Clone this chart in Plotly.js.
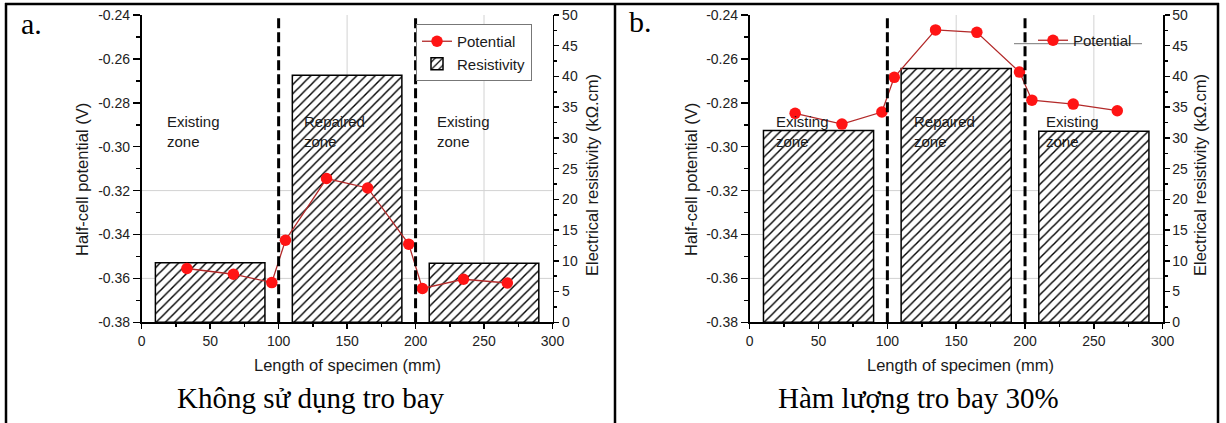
<!DOCTYPE html>
<html>
<head>
<meta charset="utf-8">
<script src="https://cdn.plot.ly/plotly-3.0.1.min.js"></script>
<style>html,body{margin:0;padding:0;background:#fff;}#chart{width:1226px;height:423px;}</style>
</head>
<body>
<div id="chart"></div>
<script>
// ---------------- data ----------------
const zoneCenters = [50, 150, 250];
const zoneBounds = [100, 200];
const zoneLabels = ["Existing<br>zone", "Repaired<br>zone", "Existing<br>zone"];

const posA = [33, 67, 95, 105, 135, 165, 195, 205, 235, 267];
const potA = [-0.3555, -0.3581, -0.3619, -0.3426, -0.3145, -0.3188, -0.3444, -0.3646, -0.3604, -0.3621];
const resA = [9.7, 40.2, 9.6];

const posB = [33, 67, 96, 105, 135, 165, 196, 205, 235, 267];
const potB = [-0.2848, -0.2897, -0.2842, -0.2684, -0.2468, -0.2479, -0.2660, -0.2788, -0.2806, -0.2836];
const resB = [31.2, 41.3, 31.1];

const xTicks = [0, 50, 100, 150, 200, 250, 300];
const potTicks = [-0.38, -0.36, -0.34, -0.32, -0.30, -0.28, -0.26, -0.24];
const potTickText = ["-0.38", "-0.36", "-0.34", "-0.32", "-0.30", "-0.28", "-0.26", "-0.24"];
const resTicks = [0, 5, 10, 15, 20, 25, 30, 35, 40, 45, 50];
const gridX = [150, 250];
const gridY = [-0.32, -0.34, -0.36];

const panelTags = ["a.", "b."];
const captions = ["Không sử dụng tro bay", "Hàm lượng tro bay 30%"];
const xTitle = "Length of specimen (mm)";
const yLeftTitle = "Half-cell potential (V)";
const yRightTitle = "Electrical resistivity (kΩ.cm)";

// ---------------- helpers ----------------
const W = 1226, H = 423;
const px = v => v / W;
const py = v => 1 - v / H;
const SANS = "Liberation Sans, Arial, sans-serif";
const SERIF = "Liberation Serif, Times New Roman, serif";

const barStyle = {
  color: "white",
  pattern: {shape: "/", fgcolor: "black", bgcolor: "white", size: 6.5, solidity: 0.22},
  line: {color: "black", width: 1.5}
};
const potMarker = {color: "#ff1414", size: 11.5};
const potLine = {color: "#b32a2a", width: 1.3};

const traces = [
  {type: "bar", x: zoneCenters, y: resA, width: 80, xaxis: "x", yaxis: "y",
   name: "Resistivity", marker: barStyle, legend: "legend", legendrank: 2, hoverinfo: "skip"},
  {type: "scatter", mode: "lines+markers", x: posA, y: potA, xaxis: "x", yaxis: "y2",
   name: "Potential", marker: potMarker, line: potLine, legend: "legend", legendrank: 1},
  {type: "bar", x: zoneCenters, y: resB, width: 80, xaxis: "x2", yaxis: "y3",
   name: "Resistivity", marker: barStyle, showlegend: false, hoverinfo: "skip"},
  {type: "scatter", mode: "lines+markers", x: posB, y: potB, xaxis: "x2", yaxis: "y4",
   name: "Potential", marker: potMarker, line: potLine, legend: "legend2"}
];

const yDom = [py(322.3), py(15)];
const domA = [px(141.7), px(552.5)];
const domB = [px(749.7), px(1162.7)];

function xAxis(dom, anchor) {
  return {domain: dom, anchor: anchor, range: [0, 300], tickmode: "array", tickvals: xTicks,
    ticks: "outside", ticklen: 5, tickwidth: 1.5, tickcolor: "black",
    showline: true, linecolor: "black", linewidth: 1.8, showgrid: false, zeroline: false,
    tickfont: {size: 14, color: "#222"},
    minor: {tickmode: "linear", tick0: 0, dtick: 25, ticks: "outside", ticklen: 3, tickcolor: "black", showgrid: false}};
}
function xTop(over, anchor) {
  return {overlaying: over, anchor: anchor, side: "top", range: [0, 300], tickmode: "array", tickvals: xTicks,
    ticks: "inside", ticklen: 4, tickwidth: 1.2, tickcolor: "black", showticklabels: false,
    showline: true, linecolor: "black", linewidth: 1.8, showgrid: false, zeroline: false};
}
function resAxis(anchor) {
  return {domain: yDom, anchor: anchor, side: "right", range: [0, 50], tickmode: "array", tickvals: resTicks,
    ticks: "outside", ticklen: 5, tickwidth: 1.5, tickcolor: "black",
    showline: true, linecolor: "black", linewidth: 1.8, showgrid: false, zeroline: false,
    tickfont: {size: 14, color: "#222"},
    minor: {tickmode: "linear", tick0: 0, dtick: 2.5, ticks: "outside", ticklen: 3, tickcolor: "black", showgrid: false}};
}
function potAxis(over, anchor) {
  return {overlaying: over, anchor: anchor, side: "left", range: [-0.38, -0.24], tickmode: "array",
    tickvals: potTicks, ticktext: potTickText,
    ticks: "outside", ticklen: 7, tickwidth: 1.5, tickcolor: "black",
    showline: true, linecolor: "black", linewidth: 1.8, showgrid: false, zeroline: false,
    tickfont: {size: 14, color: "#222"},
    minor: {tickmode: "linear", tick0: -0.38, dtick: 0.01, ticks: "outside", ticklen: 4, tickcolor: "black", showgrid: false}};
}

const shapes = [];
// grid lines (below traces) and zone boundaries; [x axis, potential axis, resistivity axis]
[["x", "y2", "y"], ["x2", "y4", "y3"]].forEach(([xa, ya, yr]) => {
  gridX.forEach(g => shapes.push({type: "line", layer: "below", xref: xa, yref: yr + " domain",
    x0: g, x1: g, y0: 0, y1: 1, line: {color: "#d2d2d2", width: 1}}));
  gridY.forEach(g => shapes.push({type: "line", layer: "below", xref: xa + " domain", yref: ya,
    x0: 0, x1: 1, y0: g, y1: g, line: {color: "#d2d2d2", width: 1}}));
  zoneBounds.forEach(b => shapes.push({type: "line", layer: "above", xref: xa, yref: yr + " domain",
    x0: b, x1: b, y0: 0, y1: 1, line: {color: "black", width: 3, dash: "10px,4px"}}));
});
// table borders
const tb = {color: "black", width: 2.5};
shapes.push({type: "line", xref: "paper", yref: "paper", x0: px(6), x1: px(6), y0: 0, y1: py(3), line: tb});
shapes.push({type: "line", xref: "paper", yref: "paper", x0: px(615), x1: px(615), y0: 0, y1: py(3), line: tb});
shapes.push({type: "line", xref: "paper", yref: "paper", x0: px(1218), x1: px(1218), y0: 0, y1: py(3), line: tb});
shapes.push({type: "line", xref: "paper", yref: "paper", x0: px(5), x1: px(1219), y0: py(4), y1: py(4), line: tb});
// underline of legend in panel b
shapes.push({type: "line", xref: "paper", yref: "paper", x0: px(1014), x1: px(1142), y0: py(43.7), y1: py(43.7),
  line: {color: "#777", width: 1}});

const annotations = [];
const zoneX = [[165, 302, 435], [774, 912, 1044]];
zoneX.forEach(row => row.forEach((xp, i) => annotations.push({
  xref: "paper", yref: "paper", x: px(xp), y: py(131.5), xanchor: "left", yanchor: "middle", align: "left",
  text: zoneLabels[i], showarrow: false, font: {family: SANS, size: 15, color: "#1a1a1a"}})));
// axis titles
[[82, 592, 347.5], [691, 1200, 960.5]].forEach(([l, r, b]) => {
  annotations.push({xref: "paper", yref: "paper", x: px(l), y: py(180), textangle: -90, text: yLeftTitle,
    showarrow: false, xanchor: "center", yanchor: "middle", font: {family: SANS, size: 16.5, color: "#1a1a1a"}});
  annotations.push({xref: "paper", yref: "paper", x: px(r), y: py(175), textangle: -90, text: yRightTitle,
    showarrow: false, xanchor: "center", yanchor: "middle", font: {family: SANS, size: 16.5, color: "#1a1a1a"}});
  annotations.push({xref: "paper", yref: "paper", x: px(b), y: py(365), text: xTitle,
    showarrow: false, xanchor: "center", yanchor: "middle", font: {family: SANS, size: 16.5, color: "#1a1a1a"}});
});
// panel tags and captions
annotations.push({xref: "paper", yref: "paper", x: px(19), y: py(24), text: panelTags[0], showarrow: false,
  xanchor: "left", yanchor: "middle", font: {family: SERIF, size: 30, color: "black"}});
annotations.push({xref: "paper", yref: "paper", x: px(627), y: py(22), text: panelTags[1], showarrow: false,
  xanchor: "left", yanchor: "middle", font: {family: SERIF, size: 30, color: "black"}});
annotations.push({xref: "paper", yref: "paper", x: px(310.5), y: py(398), text: captions[0], showarrow: false,
  xanchor: "center", yanchor: "middle", font: {family: SERIF, size: 29, color: "black"}});
annotations.push({xref: "paper", yref: "paper", x: px(918.5), y: py(398), text: captions[1], showarrow: false,
  xanchor: "center", yanchor: "middle", font: {family: SERIF, size: 29, color: "black"}});

const layout = {
  width: W, height: H,
  margin: {l: 0, r: 0, t: 0, b: 0, autoexpand: false},
  paper_bgcolor: "white", plot_bgcolor: "rgba(0,0,0,0)",
  font: {family: SANS, size: 14, color: "#222"},
  bargap: 0,
  xaxis: xAxis(domA, "y"),
  yaxis: resAxis("x"),
  yaxis2: potAxis("y", "x"),
  xaxis3: xTop("x", "y"),
  xaxis2: xAxis(domB, "y3"),
  yaxis3: resAxis("x2"),
  yaxis4: potAxis("y3", "x2"),
  xaxis4: xTop("x2", "y3"),
  legend: {x: px(416), y: py(24), xanchor: "left", yanchor: "top", bgcolor: "white",
    bordercolor: "#777", borderwidth: 1, font: {family: SANS, size: 15, color: "#1a1a1a"},
    tracegroupgap: 0, itemwidth: 30},
  legend2: {x: px(1033), y: py(24), xanchor: "left", yanchor: "top", bgcolor: "rgba(0,0,0,0)",
    borderwidth: 0, font: {family: SANS, size: 15, color: "#1a1a1a"}},
  shapes: shapes,
  annotations: annotations,
  showlegend: true
};

Plotly.newPlot("chart", traces, layout, {displayModeBar: false, staticPlot: true});
</script>
</body>
</html>
